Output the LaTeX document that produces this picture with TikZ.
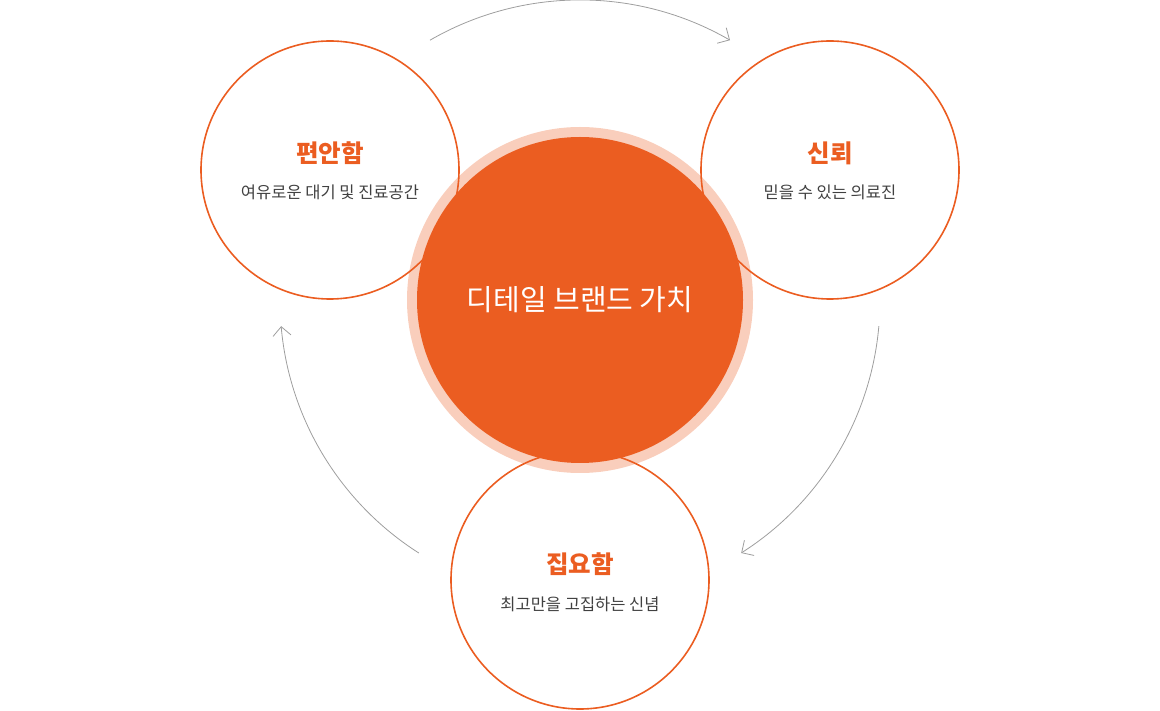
\documentclass[tikz,border=0pt]{standalone}
\usepackage{fontspec}
\setmainfont{Noto Sans CJK KR}
\usetikzlibrary{arrows.meta}
\definecolor{BrandOrange}{HTML}{EB5D21}
\definecolor{BrandHalo}{HTML}{F9CEBC}
\definecolor{ArcGray}{HTML}{9E9E9E}
\definecolor{TextGray}{HTML}{404040}
\begin{document}
\begin{tikzpicture}[x=1pt,y=1pt,
		value/.style={draw=BrandOrange, line width=1.6pt, circle, minimum size=258pt, inner sep=0pt},
		title/.style={text=BrandOrange, font=\fontsize{24.5}{24.5}\selectfont\bfseries},
		caption/.style={text=TextGray, font=\fontsize{16.5}{17}\selectfont},
		cycle/.style={draw=ArcGray, line width=0.8pt, -{Straight Barb[length=9pt,width=18pt]}}]
		\useasboundingbox (0,0) rectangle (1160,710);
		
		% Define halo and the three values
		\node[circle, fill=BrandHalo, minimum size=346pt, inner sep=0pt] (Halo) at (580,410) {};
		\node[value] (Comfort) at (330,540) {};
		\node[value] (Trust) at (830,540) {};
		\node[value] (Focus) at (580,130) {};
		\node[circle, fill=BrandOrange, minimum size=326pt, inner sep=0pt, text=white,
			font=\fontsize{29}{29}\selectfont] (Core) at (580,410) {디테일 브랜드 가치};
		
		\node[title] (ComfortTitle) at (330,557) {편안함};
		\node[caption] (ComfortText) at (330,518) {여유로운 대기 및 진료공간};
		\node[title] (TrustTitle) at (830,557) {신뢰};
		\node[caption] (TrustText) at (830,518) {믿을 수 있는 의료진};
		\node[title] (FocusTitle) at (580,146) {집요함};
		\node[caption] (FocusText) at (580,106) {최고만을 고집하는 신념};
		
		% cycle arrows
		\coordinate (ArcTop) at ([shift={(120:300)}]Core.center);
		\coordinate (ArcRight) at ([shift={(-5:300)}]Core.center);
		\coordinate (ArcLeft) at ([shift={(237.5:300)}]Core.center);
		\draw[cycle] (ArcTop) arc[start angle=120, end angle=60, radius=300];
		\draw[cycle] (ArcRight) arc[start angle=-5, end angle=-57.5, radius=300];
		\draw[cycle] (ArcLeft) arc[start angle=237.5, end angle=185, radius=300];
		
	\end{tikzpicture}
\end{document}
